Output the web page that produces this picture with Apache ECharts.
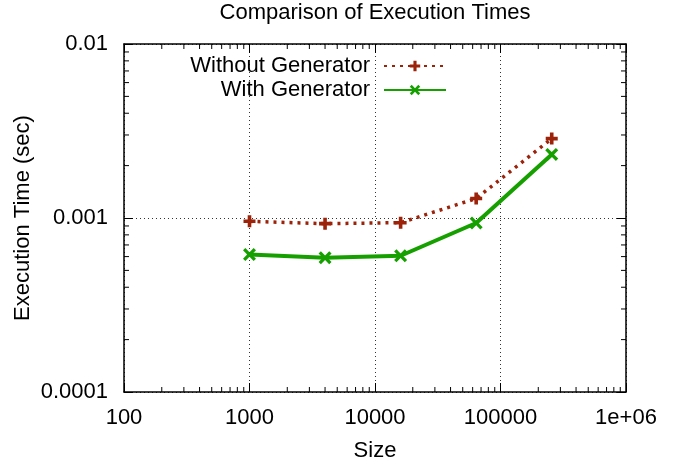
<!DOCTYPE html>
<html>
<head>
<meta charset="utf-8">
<script src="https://cdn.jsdelivr.net/npm/echarts@6/dist/echarts.min.js"></script>
<style>html,body{margin:0;padding:0;background:#fff;}#c{width:689px;height:467px;}</style>
</head>
<body>
<div id="c"></div>
<script>
const sizes = [1000, 4000, 16000, 64000, 256000];
const withoutGen = [0.000957, 0.000928, 0.00094, 0.001294, 0.00286];
const withGen = [0.000617, 0.000591, 0.000607, 0.000936, 0.00232];
const xTickLabels = ['100', '1000', '10000', '100000', '1e+06'];
const yTickLabels = ['0.0001', '0.001', '0.01'];
const xMin = 100, xMax = 1e6, yMin = 0.0001, yMax = 0.01;

const FONT = "'Liberation Sans', Arial, sans-serif";
const FS = 22;
const RED = '#9c220a';
const GREEN = '#16a000';

const xMinor = [];
for (let d = 100; d < xMax; d *= 10) for (let k = 2; k <= 9; k++) xMinor.push([k * d, yMin]);
const yMinor = [];
for (let d = 0.0001; d < yMax * 0.99; d *= 10) for (let k = 2; k <= 9; k++) yMinor.push([xMin, k * d]);

const plusPath = 'path://M3.5,0H6.5V3.5H10V6.5H6.5V10H3.5V6.5H0V3.5H3.5Z';
const crossPath = 'path://M0,1.8L1.8,0L5,3.2L8.2,0L10,1.8L6.8,5L10,8.2L8.2,10L5,6.8L1.8,10L0,8.2L3.2,5Z';

function xLab(v) { const i = Math.round(Math.log10(v)) - 2; return xTickLabels[i] || ''; }
function yLab(v) { const i = Math.round(Math.log10(v)) + 4; return yTickLabels[i] || ''; }

const chart = echarts.init(document.getElementById('c'), null, { renderer: 'canvas' });

const axisLine = { show: true, lineStyle: { color: '#000', width: 1.5 } };
const tick = { show: true, inside: true, length: 9, lineStyle: { color: '#000', width: 1 } };
const grid = { show: true, lineStyle: { color: '#333', width: 1, type: [1, 3] } };

chart.setOption({
  animation: false,
  backgroundColor: '#fff',
  textStyle: { fontFamily: FONT },
  title: {
    text: 'Comparison of Execution Times',
    left: 375, top: 2, textAlign: 'center', padding: 0,
    textStyle: { fontFamily: FONT, fontSize: FS, fontWeight: 'normal', color: '#000' }
  },
  grid: { left: 124, right: 63, top: 44, bottom: 74 },
  legend: [
    {
      data: ['Without Generator'], right: 242, top: 55, align: 'right', orient: 'vertical',
      itemWidth: 62, itemHeight: 13, padding: 0,
      textStyle: { fontFamily: FONT, fontSize: FS, color: '#000', padding: [0, 9, 0, 0] }
    },
    {
      data: ['With Generator'], right: 242, top: 79, align: 'right', orient: 'vertical',
      itemWidth: 62, itemHeight: 13, padding: 0,
      textStyle: { fontFamily: FONT, fontSize: FS, color: '#000', padding: [0, 9, 0, 0] }
    }
  ],
  xAxis: [
    {
      type: 'log', logBase: 10, min: xMin, max: xMax, interval: 1, position: 'bottom',
      name: 'Size', nameLocation: 'middle', nameGap: 48, nameMoveOverlap: false,
      nameTextStyle: { fontFamily: FONT, fontSize: FS, color: '#000' },
      axisLine: axisLine, axisTick: tick, splitLine: grid, minorTick: { show: false },
      axisLabel: { fontFamily: FONT, fontSize: FS, color: '#000', margin: 15, formatter: xLab }
    },
    {
      type: 'log', logBase: 10, min: xMin, max: xMax, interval: 1, position: 'top',
      axisLine: axisLine, axisTick: tick, splitLine: { show: false }, axisLabel: { show: false }
    }
  ],
  yAxis: [
    {
      type: 'log', logBase: 10, min: yMin, max: yMax, interval: 1, position: 'left',
      name: 'Execution Time (sec)', nameLocation: 'middle', nameGap: 90, nameMoveOverlap: false,
      nameTextStyle: { fontFamily: FONT, fontSize: FS, color: '#000' },
      axisLine: axisLine, axisTick: tick, splitLine: grid,
      axisLabel: { fontFamily: FONT, fontSize: FS, color: '#000', margin: 16, formatter: yLab }
    },
    {
      type: 'log', logBase: 10, min: yMin, max: yMax, interval: 1, position: 'right',
      axisLine: axisLine, axisTick: tick, splitLine: { show: false }, axisLabel: { show: false }
    }
  ],
  series: [
    {
      name: 'Without Generator', type: 'line',
      data: sizes.map((s, i) => [s, withoutGen[i]]),
      symbol: plusPath, symbolSize: 12,
      lineStyle: { color: RED, width: 3.5, type: [3, 5] },
      itemStyle: { color: RED },
      z: 3
    },
    {
      name: 'With Generator', type: 'line',
      data: sizes.map((s, i) => [s, withGen[i]]),
      symbol: crossPath, symbolSize: 13,
      lineStyle: { color: GREEN, width: 4, type: 'solid' },
      itemStyle: { color: GREEN },
      z: 4
    },
    {
      type: 'custom', silent: true, clip: false, z: 5,
      data: xMinor, encode: { x: 0, y: 1 },
      renderItem: function (params, api) {
        const v = api.value(0);
        const b = api.coord([v, yMin]);
        const t = api.coord([v, yMax]);
        const st = { stroke: '#000', lineWidth: 1 };
        return { type: 'group', children: [
          { type: 'line', shape: { x1: b[0], y1: b[1], x2: b[0], y2: b[1] - 5 }, style: st },
          { type: 'line', shape: { x1: t[0], y1: t[1], x2: t[0], y2: t[1] + 5 }, style: st }
        ] };
      }
    },
    {
      type: 'custom', silent: true, clip: false, z: 5,
      data: yMinor, encode: { x: 0, y: 1 },
      renderItem: function (params, api) {
        const v = api.value(1);
        const l = api.coord([xMin, v]);
        const r = api.coord([xMax, v]);
        const st = { stroke: '#000', lineWidth: 1 };
        return { type: 'group', children: [
          { type: 'line', shape: { x1: l[0], y1: l[1], x2: l[0] + 5, y2: l[1] }, style: st },
          { type: 'line', shape: { x1: r[0], y1: r[1], x2: r[0] - 5, y2: r[1] }, style: st }
        ] };
      }
    }
  ]
});
</script>
</body>
</html>
